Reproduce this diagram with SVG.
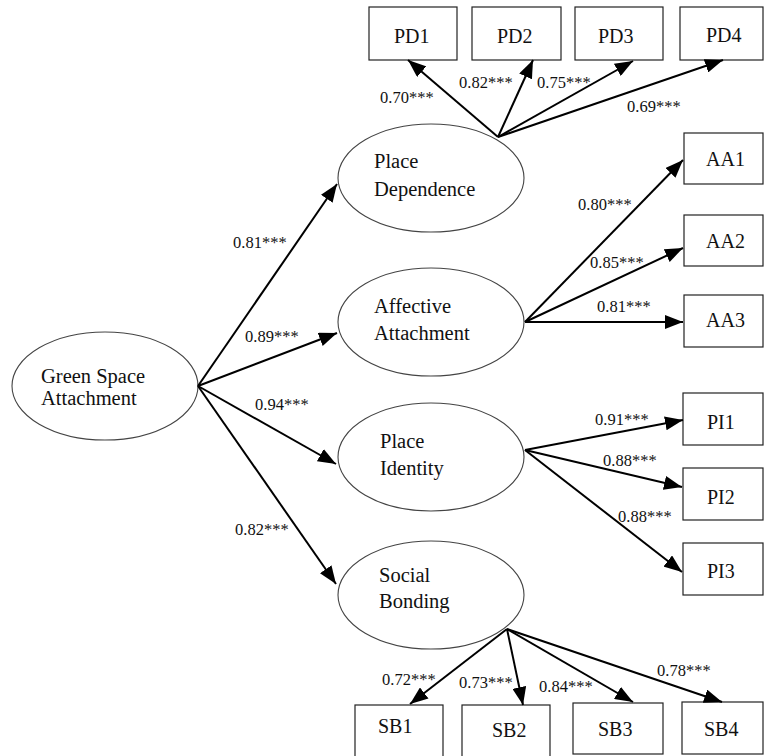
<svg xmlns="http://www.w3.org/2000/svg" width="764" height="756" viewBox="0 0 764 756">
<defs>
<marker id="ah" viewBox="0 0 18 14" refX="18" refY="7" markerWidth="18" markerHeight="14" markerUnits="userSpaceOnUse" orient="auto"><path d="M0,0 L18,7 L0,14 z" fill="#000"/></marker>
<style>
.box{fill:#fff;stroke:#222;stroke-width:1.2}
.ell{fill:#fff;stroke:#444;stroke-width:1.1}
.t{font-family:"Liberation Serif","Times New Roman",serif;font-size:20px;fill:#111}
.lt{font-family:"Liberation Serif","Times New Roman",serif;font-size:20.5px;fill:#111}
.c{stroke:#000;stroke-width:2;fill:none;marker-end:url(#ah)}
.l{font-family:"Liberation Serif","Times New Roman",serif;font-size:16.5px;fill:#111}
</style>
</defs>
<rect width="764" height="756" fill="#fff"/>

<g id="GSA"><ellipse class="ell" cx="105" cy="386" rx="93" ry="54"/><text class="lt" x="41" y="383">Green Space</text><text class="lt" x="41" y="405">Attachment</text></g>
<g id="PD"><ellipse class="ell" cx="431" cy="178" rx="93" ry="54"/><text class="lt" x="374" y="168">Place</text><text class="lt" x="374" y="196">Dependence</text></g>
<g id="AA"><ellipse class="ell" cx="431" cy="322" rx="93" ry="54"/><text class="lt" x="374" y="313">Affective</text><text class="lt" x="374" y="340">Attachment</text></g>
<g id="PI"><ellipse class="ell" cx="431" cy="457" rx="93" ry="54"/><text class="lt" x="380" y="448">Place</text><text class="lt" x="380" y="475">Identity</text></g>
<g id="SB"><ellipse class="ell" cx="431" cy="595" rx="93" ry="54"/><text class="lt" x="379" y="582">Social</text><text class="lt" x="379" y="608">Bonding</text></g>

<g id="PD1"><rect class="box" x="369" y="7" width="88" height="53"/><text class="t" x="394" y="43">PD1</text></g>
<g id="PD2"><rect class="box" x="472" y="7" width="89" height="53"/><text class="t" x="497" y="43">PD2</text></g>
<g id="PD3"><rect class="box" x="575" y="7" width="88" height="53"/><text class="t" x="598" y="43">PD3</text></g>
<g id="PD4"><rect class="box" x="680" y="7" width="83" height="53"/><text class="t" x="706" y="42">PD4</text></g>

<g id="AA1"><rect class="box" x="684" y="133" width="79" height="51"/><text class="t" x="706" y="166">AA1</text></g>
<g id="AA2"><rect class="box" x="684" y="215" width="79" height="51"/><text class="t" x="706" y="248">AA2</text></g>
<g id="AA3"><rect class="box" x="684" y="295" width="79" height="52"/><text class="t" x="706" y="327">AA3</text></g>

<g id="PI1"><rect class="box" x="683" y="393" width="80" height="52"/><text class="t" x="707" y="429">PI1</text></g>
<g id="PI2"><rect class="box" x="683" y="468" width="80" height="52"/><text class="t" x="707" y="504">PI2</text></g>
<g id="PI3"><rect class="box" x="683" y="543" width="80" height="52"/><text class="t" x="707" y="578">PI3</text></g>

<g id="SB1"><rect class="box" x="355" y="705" width="88" height="60"/><text class="t" x="378" y="733">SB1</text></g>
<g id="SB2"><rect class="box" x="462" y="705" width="88" height="60"/><text class="t" x="492" y="737">SB2</text></g>
<g id="SB3"><rect class="box" x="573" y="703" width="90" height="51"/><text class="t" x="598" y="736">SB3</text></g>
<g id="SB4"><rect class="box" x="682" y="702" width="81" height="52"/><text class="t" x="704" y="736">SB4</text></g>

<g id="connectors">
<line class="c" x1="198" y1="386" x2="337" y2="184"/>
<line class="c" x1="198" y1="386" x2="337" y2="333"/>
<line class="c" x1="198" y1="386" x2="336" y2="464"/>
<line class="c" x1="198" y1="386" x2="336" y2="584"/>

<line class="c" x1="498" y1="137" x2="408" y2="60"/>
<line class="c" x1="498" y1="137" x2="533" y2="60"/>
<line class="c" x1="498" y1="137" x2="633" y2="61"/>
<line class="c" x1="498" y1="137" x2="723" y2="60"/>

<line class="c" x1="525" y1="322" x2="683" y2="160"/>
<line class="c" x1="525" y1="322" x2="683" y2="248"/>
<line class="c" x1="525" y1="322" x2="683" y2="322"/>

<line class="c" x1="525" y1="450" x2="683" y2="420"/>
<line class="c" x1="525" y1="450" x2="682" y2="487"/>
<line class="c" x1="525" y1="450" x2="682" y2="572"/>

<line class="c" x1="507" y1="629" x2="410" y2="704"/>
<line class="c" x1="507" y1="629" x2="523" y2="705"/>
<line class="c" x1="507" y1="629" x2="633" y2="702"/>
<line class="c" x1="507" y1="629" x2="722" y2="702"/>
</g>

<g id="labels">
<text class="l" x="233" y="248">0.81***</text>
<text class="l" x="245" y="342">0.89***</text>
<text class="l" x="255" y="410">0.94***</text>
<text class="l" x="235" y="535">0.82***</text>
<text class="l" x="380" y="103">0.70***</text>
<text class="l" x="459" y="88">0.82***</text>
<text class="l" x="537" y="88">0.75***</text>
<text class="l" x="627" y="112">0.69***</text>
<text class="l" x="578" y="210">0.80***</text>
<text class="l" x="590" y="268">0.85***</text>
<text class="l" x="597" y="312">0.81***</text>
<text class="l" x="595" y="425">0.91***</text>
<text class="l" x="603" y="466">0.88***</text>
<text class="l" x="618" y="522">0.88***</text>
<text class="l" x="382" y="685">0.72***</text>
<text class="l" x="459" y="688">0.73***</text>
<text class="l" x="539" y="692">0.84***</text>
<text class="l" x="657" y="676">0.78***</text>
</g>
</svg>
